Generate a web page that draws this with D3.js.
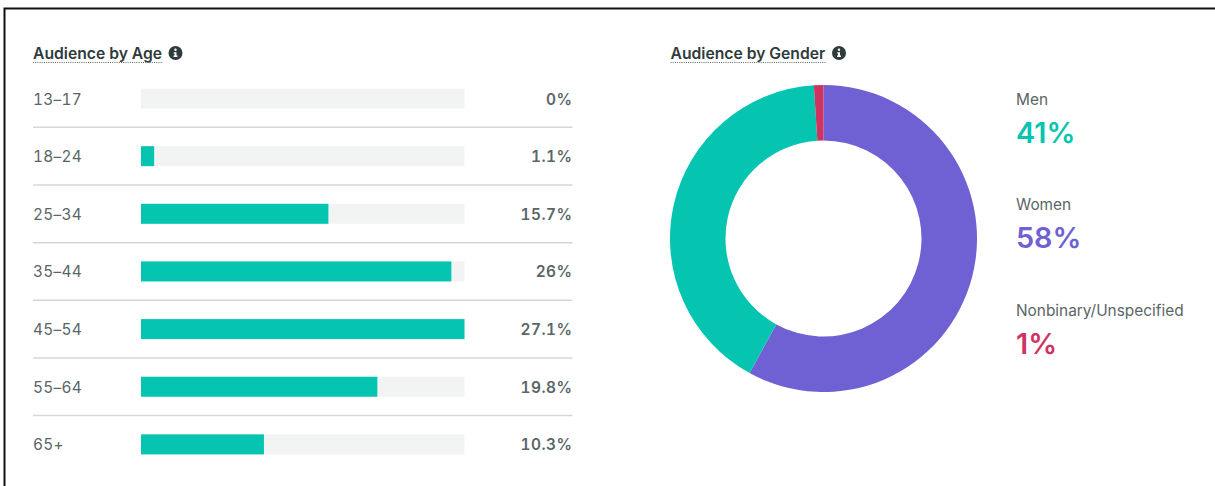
<!DOCTYPE html>
<html>
<head>
<meta charset="utf-8">
<script src="https://cdn.jsdelivr.net/npm/d3@7"></script>
<style>
    html, body { margin: 0; padding: 0; background: #fff; overflow: hidden; }
    text { font-family: Inter, "Noto Sans", sans-serif; }
    .num { font-variant-numeric: tabular-nums; }
</style>
</head>
<body>
<div id="chart"></div>
<script>
// age panel
const ageGroups = ['13–17', '18–24', '25–34', '35–44', '45–54', '55–64', '65+'];
const agePercents = [0, 1.1, 15.7, 26, 27.1, 19.8, 10.3];
const ageLabels = ['0%', '1.1%', '15.7%', '26%', '27.1%', '19.8%', '10.3%'];

// gender panel, in the order the ring is drawn
const genderNames = ['Women', 'Men', 'Nonbinary/Unspecified'];
const genderPercents = [58, 41, 1];
const genderColors = ['#6f60d3', '#05c5b1', '#cf3361'];
// legend order
const legendOrder = ['Men', 'Women', 'Nonbinary/Unspecified'];

const width = 1215, height = 486;
const textDark = '#2f3b3c', textGrey = '#5a6666';

const svg = d3.select('#chart').append('svg')
    .attr('width', width)
    .attr('height', height)
    .style('display', 'block');

// screenshot frame, open at the right and bottom
svg.append('path')
    .attr('d', `M4.5,${height} V8.5 H${width}`)
    .attr('fill', 'none')
    .attr('stroke', '#111')
    .attr('stroke-width', 2);

function drawTitle(label, x, underline) {
    const g = svg.append('g').attr('transform', `translate(${x}, 0)`);
    g.append('text')
        .attr('y', 58.5)
        .attr('font-size', 15.7)
        .attr('font-weight', 600)
        .attr('fill', textDark)
        .text(label);
    g.append('line')
        .attr('x1', 0).attr('x2', underline)
        .attr('y1', 62.5).attr('y2', 62.5)
        .attr('stroke', '#59686a')
        .attr('stroke-width', 1)
        .attr('stroke-dasharray', '1 1.2');
    // info icon
    const icon = g.append('g').attr('transform', `translate(${underline + 12.5}, 53)`);
    icon.append('circle').attr('r', 7).attr('fill', textDark);
    icon.append('circle').attr('cy', -3.2).attr('r', 1.2).attr('fill', '#fff');
    icon.append('path')
        .attr('d', 'M-1.8,-0.8 H1 V2.6 H2 V4 H-2 V2.6 H-1 V0.5 H-1.8 Z')
        .attr('fill', '#fff');
}

drawTitle('Audience by Age', 33, 130);
drawTitle('Audience by Gender', 670.5, 156);

// bars
const xScale = d3.scaleLinear()
    .domain([0, d3.max(agePercents)])
    .range([141, 464.5]);
const yScale = d3.scaleBand()
    .domain(ageGroups)
    .range([69.7, 473.2]);
const barHeight = 20;

const rows = svg.append('g').selectAll('g')
    .data(ageGroups)
    .join('g')
    .attr('transform', d => `translate(0, ${yScale(d) + yScale.bandwidth() / 2})`);

rows.append('rect')
    .attr('x', xScale(0))
    .attr('y', -barHeight / 2)
    .attr('width', xScale.range()[1] - xScale(0))
    .attr('height', barHeight)
    .attr('fill', '#f2f4f4');

rows.append('rect')
    .attr('x', xScale(0))
    .attr('y', -barHeight / 2)
    .attr('width', (d, i) => xScale(agePercents[i]) - xScale(0))
    .attr('height', barHeight)
    .attr('fill', genderColors[1]);

rows.append('text')
    .attr('class', 'num')
    .attr('x', 33)
    .attr('y', 0.5)
    .attr('dy', '0.36em')
    .attr('font-size', 15.4)
    .attr('letter-spacing', 0.3)
    .attr('fill', textGrey)
    .text(d => d);

rows.append('text')
    .attr('class', 'num')
    .attr('x', 572.5)
    .attr('y', 0.5)
    .attr('dy', '0.36em')
    .attr('text-anchor', 'end')
    .attr('font-size', 15.4)
    .attr('font-weight', 600)
    .attr('letter-spacing', 0.5)
    .attr('fill', textGrey)
    .text((d, i) => ageLabels[i]);

// row separators
rows.filter((d, i) => i < ageGroups.length - 1).append('line')
    .attr('x1', 33).attr('x2', 572.5)
    .attr('y1', yScale.bandwidth() / 2).attr('y2', yScale.bandwidth() / 2)
    .attr('stroke', '#d3d8d8')
    .attr('stroke-width', 1.5);

// donut
const pie = d3.pie().sort(null).value(d => d);
const arc = d3.arc().innerRadius(98).outerRadius(153.5);

svg.append('g')
    .attr('transform', 'translate(823.5, 238.5)')
    .selectAll('path')
    .data(pie(genderPercents))
    .join('path')
    .attr('d', arc)
    .attr('fill', (d, i) => genderColors[i]);

// legend
const legendY = d3.scalePoint()
    .domain(legendOrder)
    .range([104.5, 315.5]);

const legend = svg.append('g').selectAll('g')
    .data(legendOrder)
    .join('g')
    .attr('transform', d => `translate(1016, ${legendY(d)})`);

legend.append('text')
    .attr('font-size', 15.4)
    .attr('fill', textGrey)
    .text(d => d);

legend.append('text')
    .attr('y', 38)
    .attr('font-size', 28.8)
    .attr('font-weight', 600)
    .attr('fill', d => genderColors[genderNames.indexOf(d)])
    .text(d => genderPercents[genderNames.indexOf(d)] + '%');
</script>
</body>
</html>
